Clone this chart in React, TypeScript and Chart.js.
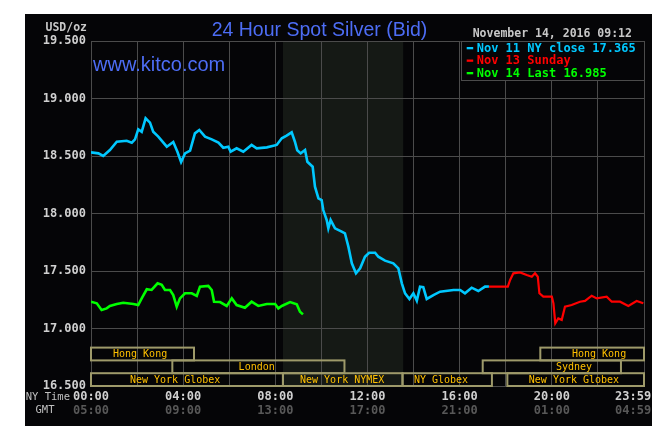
import React, { useEffect, useRef } from "react";
import { Chart, registerables } from "chart.js";

Chart.register(...registerables);

// ---- Data (hours after midnight NY time, USD/oz) ----
const CLOSE_HOURS = [0, 0.32, 0.53, 0.82, 1.12, 1.55, 1.77, 1.91, 2.05, 2.2, 2.37, 2.56, 2.7, 2.92, 3.29, 3.57, 3.75, 3.91, 4.08, 4.3, 4.51, 4.7, 4.95, 5.24, 5.53, 5.74, 5.96, 6.06, 6.32, 6.61, 6.97, 7.19, 7.63, 8.06, 8.28, 8.49, 8.71, 8.85, 8.95, 9.1, 9.29, 9.39, 9.62, 9.72, 9.87, 10.01, 10.08, 10.23, 10.3, 10.4, 10.59, 10.88, 11.02, 11.17, 11.32, 11.5, 11.68, 11.89, 12.07, 12.33, 12.47, 12.76, 13.12, 13.34, 13.49, 13.63, 13.82, 13.99, 14.14, 14.28, 14.42, 14.57, 14.86, 15.15, 15.73, 16.02, 16.23, 16.52, 16.81, 17.1, 17.27];
const CLOSE_VALUES = [18.532, 18.523, 18.5, 18.552, 18.624, 18.633, 18.616, 18.645, 18.732, 18.71, 18.828, 18.79, 18.711, 18.668, 18.581, 18.622, 18.537, 18.448, 18.523, 18.546, 18.697, 18.726, 18.668, 18.645, 18.616, 18.572, 18.581, 18.537, 18.567, 18.537, 18.596, 18.567, 18.575, 18.596, 18.654, 18.677, 18.706, 18.624, 18.55, 18.523, 18.552, 18.45, 18.407, 18.233, 18.132, 18.117, 18.03, 17.943, 17.871, 17.943, 17.871, 17.842, 17.828, 17.712, 17.567, 17.48, 17.523, 17.624, 17.659, 17.659, 17.624, 17.59, 17.567, 17.523, 17.393, 17.306, 17.257, 17.306, 17.242, 17.364, 17.36, 17.257, 17.291, 17.32, 17.335, 17.335, 17.306, 17.355, 17.326, 17.364, 17.365];

const SUNDAY_HOURS = [17.27, 18.09, 18.19, 18.33, 18.62, 18.91, 19.13, 19.27, 19.39, 19.46, 19.63, 20.0, 20.07, 20.15, 20.28, 20.43, 20.57, 20.86, 21.22, 21.44, 21.73, 21.95, 22.38, 22.6, 22.96, 23.32, 23.68, 23.97];
const SUNDAY_VALUES = [17.365, 17.365, 17.422, 17.48, 17.488, 17.465, 17.45, 17.48, 17.45, 17.306, 17.277, 17.277, 17.219, 17.045, 17.088, 17.075, 17.19, 17.204, 17.233, 17.24, 17.285, 17.262, 17.277, 17.233, 17.233, 17.196, 17.239, 17.219];

const LAST_HOURS = [0, 0.25, 0.46, 0.68, 0.82, 1.12, 1.4, 1.84, 2.05, 2.2, 2.42, 2.63, 2.89, 3.07, 3.21, 3.43, 3.57, 3.72, 3.86, 4.08, 4.37, 4.59, 4.73, 5.09, 5.24, 5.34, 5.6, 5.89, 6.11, 6.32, 6.68, 6.97, 7.26, 7.63, 7.99, 8.13, 8.28, 8.64, 8.93, 9.07, 9.2];
const LAST_VALUES = [17.233, 17.219, 17.161, 17.175, 17.196, 17.213, 17.224, 17.213, 17.204, 17.262, 17.341, 17.335, 17.393, 17.38, 17.335, 17.335, 17.291, 17.19, 17.262, 17.306, 17.306, 17.283, 17.364, 17.37, 17.335, 17.233, 17.23, 17.196, 17.262, 17.204, 17.18, 17.233, 17.196, 17.213, 17.213, 17.175, 17.196, 17.23, 17.21, 17.146, 17.123];

const SERIES_NAMES = ["Nov 11 NY close 17.365", "Nov 13 Sunday", "Nov 14 Last 16.985"];
const SERIES_COLORS = ["#00c8ff", "#ff0000", "#00ff00"];

const Y_MIN = 16.5;
const Y_MAX = 19.5;
const Y_STEP = 0.5;
const X_TICK_HOURS = [0, 4, 8, 12, 16, 20, 24];
const NY_TIME_LABELS = ["00:00", "04:00", "08:00", "12:00", "16:00", "20:00", "23:59"];
const GMT_LABELS = ["05:00", "09:00", "13:00", "17:00", "21:00", "01:00", "04:59"];

const NYMEX_BAND = [8.33, 13.55];

// row, start hour, end hour, label, label centre hour
const SESSION_ROWS = [0, 0, 1, 1, 2, 2, 2, 2];
const SESSION_STARTS = [0, 19.5, 3.53, 17.0, 0, 8.33, 13.52, 18.07];
const SESSION_ENDS = [4.47, 24, 11.0, 23.0, 8.33, 13.52, 17.4, 24];
const SESSION_LABELS = ["Hong Kong", "Hong Kong", "London", "Sydney", "New York Globex", "New York NYMEX", "NY Globex", "New York Globex"];
const SESSION_LABEL_AT = [2.13, 22.05, 7.19, 20.96, 3.65, 10.9, 15.19, 20.96];

const TITLE = "24 Hour Spot Silver (Bid)";
const SITE = "www.kitco.com";
const UNIT = "USD/oz";
const STAMP = "November 14, 2016 09:12";

const MONO = '"DejaVu Sans Mono", monospace';
const SANS = '"Liberation Sans", Arial, sans-serif';
const GRID = "#4b4b4b";

function toPoints(xs: number[], ys: number[]) {
  return xs.map((x, i) => ({ x, y: ys[i] }));
}

function padLast(label: string, i: number, n: number) {
  return i === n - 1 ? label + "   " : label;
}

const kitcoPlugin = {
  id: "kitcoDecor",
  beforeDraw(chart: any) {
    const { ctx, chartArea } = chart;
    const xs = chart.scales.x;
    const x0 = xs.getPixelForValue(NYMEX_BAND[0]);
    const x1 = xs.getPixelForValue(NYMEX_BAND[1]);
    ctx.save();
    ctx.fillStyle = "#151915";
    ctx.fillRect(x0, chartArea.top, x1 - x0, chartArea.bottom - chartArea.top);
    ctx.restore();
  },
  afterDatasetsDraw(chart: any) {
    const { ctx, chartArea } = chart;
    const xs = chart.scales.x;
    const rowH = 12.8;
    ctx.save();
    ctx.lineWidth = 2;
    ctx.strokeStyle = "#9e9a6a";
    ctx.fillStyle = "#ffc000";
    ctx.font = `10px ${MONO}`;
    ctx.textAlign = "center";
    ctx.textBaseline = "middle";
    for (let i = 0; i < SESSION_LABELS.length; i++) {
      const top = chartArea.bottom - (3 - SESSION_ROWS[i]) * rowH;
      const a = xs.getPixelForValue(SESSION_STARTS[i]);
      const b = xs.getPixelForValue(SESSION_ENDS[i]);
      ctx.strokeRect(a, top, b - a, rowH);
      ctx.fillText(SESSION_LABELS[i], xs.getPixelForValue(SESSION_LABEL_AT[i]), top + rowH / 2 + 0.5);
    }
    ctx.restore();
  },
  afterDraw(chart: any) {
    const { ctx, chartArea } = chart;
    const xs = chart.scales.x;
    ctx.save();
    // title
    ctx.fillStyle = "#4d6df5";
    ctx.font = `19.5px ${SANS}`;
    ctx.textAlign = "center";
    ctx.textBaseline = "alphabetic";
    ctx.fillText(TITLE, 294.5, 22);
    ctx.textAlign = "left";
    ctx.font = `20px ${SANS}`;
    ctx.fillText(SITE, chartArea.left + 2, 56.5);
    // unit + stamp
    ctx.fillStyle = "#c8c8c8";
    ctx.font = `bold 11.5px ${MONO}`;
    ctx.textBaseline = "middle";
    ctx.textAlign = "right";
    ctx.fillText(UNIT, 62, 14);
    ctx.textAlign = "left";
    ctx.fillText(STAMP, 447.7, 20);
    // legend box
    const lx = 435.7;
    const ly = chartArea.top;
    const lw = chartArea.right - lx;
    const lh = 39;
    ctx.fillStyle = "#050507";
    ctx.fillRect(lx, ly, lw, lh);
    ctx.strokeStyle = GRID;
    ctx.lineWidth = 1;
    ctx.strokeRect(Math.round(lx) + 0.5, ly + 0.5, Math.round(lw), lh);
    ctx.font = `bold 12px ${MONO}`;
    for (let i = 0; i < SERIES_NAMES.length; i++) {
      const cy = ly + 7 + i * 12.5;
      ctx.fillStyle = SERIES_COLORS[i];
      ctx.fillRect(lx + 6, cy - 1, 6.5, 2.3);
      ctx.fillText(SERIES_NAMES[i], lx + 16, cy + 0.5);
    }
    // GMT row
    ctx.fillStyle = "#585858";
    ctx.textAlign = "center";
    ctx.font = `bold 12px ${MONO}`;
    for (let i = 0; i < X_TICK_HOURS.length; i++) {
      ctx.fillText(padLast(GMT_LABELS[i], i, X_TICK_HOURS.length), xs.getPixelForValue(X_TICK_HOURS[i]), 396.5);
    }
    // axis captions
    ctx.fillStyle = "#c0c0c0";
    ctx.font = `10.5px ${MONO}`;
    ctx.textAlign = "right";
    ctx.fillText("NY Time", 45, 383);
    ctx.textAlign = "center";
    ctx.fillText("GMT", 20, 396.5);
    ctx.restore();
  },
};

export default function App() {
  const ref = useRef<HTMLCanvasElement | null>(null);

  useEffect(() => {
    document.body.style.overflow = "hidden";
    const canvas = ref.current;
    if (!canvas) return;
    const chart = new Chart(canvas, {
      type: "line",
      data: {
        datasets: [
          { label: SERIES_NAMES[0], data: toPoints(CLOSE_HOURS, CLOSE_VALUES), borderColor: SERIES_COLORS[0], borderWidth: 2.6 },
          { label: SERIES_NAMES[1], data: toPoints(SUNDAY_HOURS, SUNDAY_VALUES), borderColor: SERIES_COLORS[1], borderWidth: 2.2 },
          { label: SERIES_NAMES[2], data: toPoints(LAST_HOURS, LAST_VALUES), borderColor: SERIES_COLORS[2], borderWidth: 2.6 },
        ],
      },
      options: {
        responsive: false,
        animation: false,
        elements: { point: { radius: 0 }, line: { tension: 0 } },
        layout: { padding: { top: 27, right: 8, left: 0, bottom: 0 } },
        plugins: { legend: { display: false }, tooltip: { enabled: false }, title: { display: false } },
        scales: {
          x: {
            type: "linear",
            min: 0,
            max: 24,
            afterFit: (s: any) => {
              s.height = 40;
              s.paddingLeft = 0;
              s.paddingRight = 0;
            },
            grid: { color: GRID, drawTicks: false, lineWidth: 1 },
            border: { color: GRID },
            ticks: {
              stepSize: 2,
              autoSkip: false,
              maxRotation: 0,
              padding: 4,
              color: "#d0d0d0",
              font: { family: MONO, size: 12, weight: "bold" },
              callback: (v: any) => {
                const idx = X_TICK_HOURS.indexOf(Number(v));
                return idx >= 0 ? padLast(NY_TIME_LABELS[idx], idx, X_TICK_HOURS.length) : "";
              },
            },
          },
          y: {
            min: Y_MIN,
            max: Y_MAX,
            afterFit: (s: any) => {
              s.width = 66;
              s.paddingTop = 0;
              s.paddingBottom = 0;
            },
            grid: { color: GRID, drawTicks: false, lineWidth: 1 },
            border: { color: GRID },
            ticks: {
              stepSize: Y_STEP,
              padding: 5,
              color: "#d0d0d0",
              font: { family: MONO, size: 12, weight: "bold" },
              callback: (v: any) => Number(v).toFixed(3),
            },
          },
        },
      },
      plugins: [kitcoPlugin],
    } as any);
    return () => chart.destroy();
  }, []);

  return (
    <div style={{ position: "absolute", left: 25, top: 14, width: 627, height: 412, background: "#050507" }}>
      <canvas ref={ref} width={627} height={412} style={{ display: "block", width: 627, height: 412 }} />
    </div>
  );
}
